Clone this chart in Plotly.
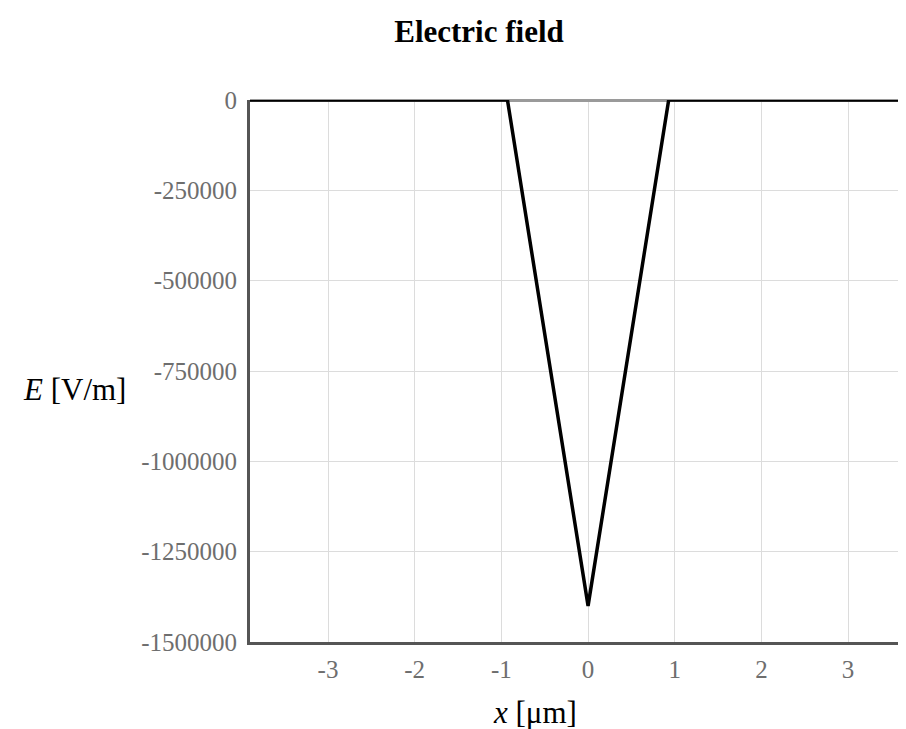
import plotly.graph_objects as go

# Data: electric field across a p-n junction
x_um = [-4.0, -0.93, 0.0, 0.93, 4.0]
e_field = [0, 0, -1400000, 0, 0]

x_ticks = [-3, -2, -1, 0, 1, 2, 3]
x_tick_labels = ["-3", "-2", "-1", "0", "1", "2", "3"]
y_ticks = [0, -250000, -500000, -750000, -1000000, -1250000, -1500000]
y_tick_labels = ["0", "-250000", "-500000", "-750000", "-1000000", "-1250000", "-1500000"]

SERIF = "Liberation Serif, Times New Roman, serif"
W, H = 906, 729
L, T, B = 242, 92, 634

fig = go.Figure()
fig.add_trace(go.Scatter(
    x=x_um, y=e_field, mode="lines",
    line=dict(color="black", width=3.5),
    showlegend=False, hoverinfo="skip",
))

fig.update_layout(
    width=W, height=H,
    margin=dict(l=L, r=0, t=T, b=H - B),
    paper_bgcolor="white", plot_bgcolor="white",
    title=dict(text="<b>Electric field</b>", x=471 / W, xanchor="center",
               y=1 - 23 / H, yanchor="middle", yref="container",
               font=dict(family=SERIF, size=31, color="black")),
    xaxis=dict(range=[-3.9, 3.76], tickvals=x_ticks, ticktext=x_tick_labels,
               showgrid=True, gridcolor="#dcdcdc", gridwidth=1,
               zeroline=False, showline=True, linecolor="#555555", linewidth=3,
               ticks="outside", ticklen=3, tickcolor="rgba(0,0,0,0)",
               tickfont=dict(family=SERIF, size=25, color="#6e6e6e")),
    yaxis=dict(range=[-1500000, 0], tickvals=y_ticks, ticktext=y_tick_labels,
               showgrid=True, gridcolor="#dcdcdc", gridwidth=1,
               zeroline=True, zerolinecolor="#9a9a9a", zerolinewidth=3,
               showline=True, linecolor="#555555", linewidth=3,
               ticks="outside", ticklen=5, tickcolor="rgba(0,0,0,0)",
               tickfont=dict(family=SERIF, size=25, color="#6e6e6e")),
    annotations=[
        dict(text="<i>E</i> [V/m]", xref="paper", yref="paper",
             x=(13 - L) / (W - L), y=(B - 381) / (B - T),
             xanchor="left", yanchor="middle", showarrow=False,
             font=dict(family=SERIF, size=31, color="black")),
        dict(text="<i>x</i> [μm]", xref="paper", yref="paper",
             x=(527 - L) / (W - L), y=-(704 - B) / (B - T),
             xanchor="center", yanchor="middle", showarrow=False,
             font=dict(family=SERIF, size=31, color="black")),
    ],
)

fig.write_html("out.html")
